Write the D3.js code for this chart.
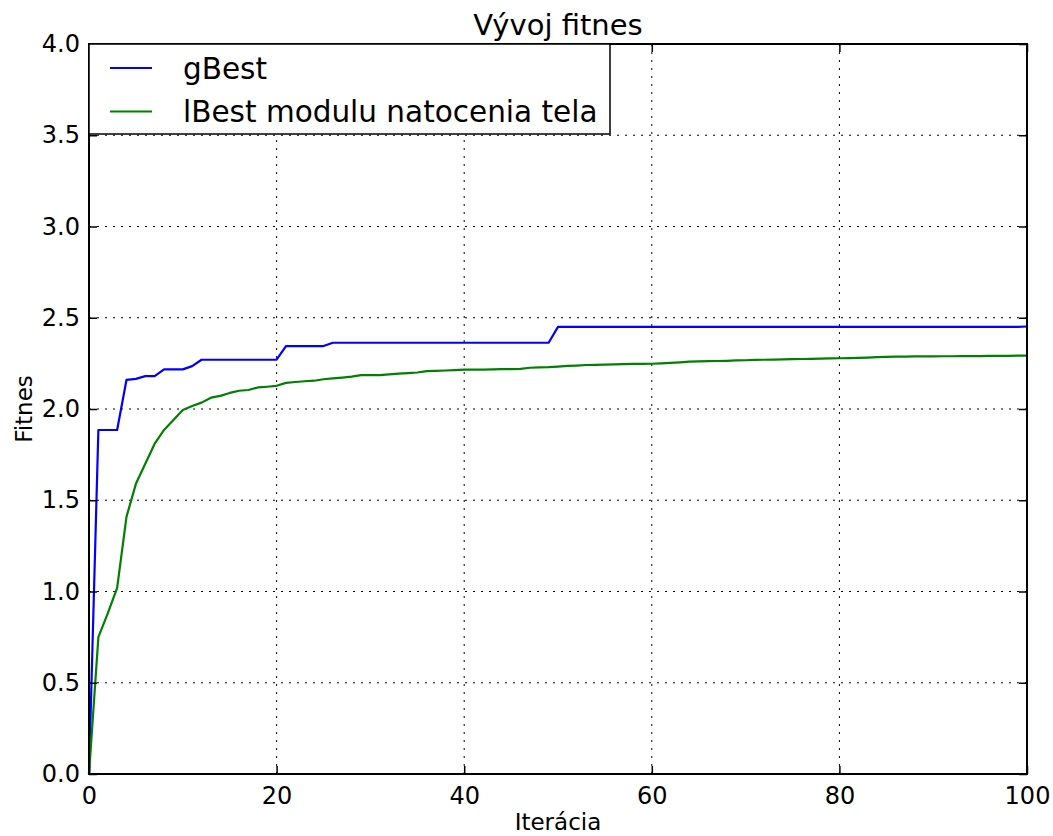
<!DOCTYPE html>
<html>
<head>
<meta charset="utf-8">
<script src="https://cdn.jsdelivr.net/npm/d3@7"></script>
<style>
    html, body { margin: 0; padding: 0; background: #fff; }
    svg { display: block; font-family: 'DejaVu Sans', sans-serif; }
</style>
</head>
<body>
<svg id="chart" width="1053" height="836"></svg>
<script>
// Chart data
const chartTitle = 'Vývoj fitnes';
const xLabel = 'Iterácia';
const yLabel = 'Fitnes';
const seriesNames = ['gBest', 'lBest modulu natocenia tela'];
const seriesColors = ['#0000ff', '#008000'];
const xTicks = [0, 20, 40, 60, 80, 100];
const yTicks = [0.0, 0.5, 1.0, 1.5, 2.0, 2.5, 3.0, 3.5, 4.0];

const gBest = [
    0, 1.885, 1.885, 1.885, 2.16, 2.165, 2.18, 2.18, 2.217, 2.217,
    2.217, 2.235, 2.27, 2.27, 2.27, 2.27, 2.27, 2.27, 2.27, 2.27,
    2.27, 2.345, 2.345, 2.345, 2.345, 2.345, 2.363, 2.363, 2.363, 2.363,
    2.363, 2.363, 2.363, 2.363, 2.363, 2.363, 2.363, 2.363, 2.363, 2.363,
    2.363, 2.363, 2.363, 2.363, 2.363, 2.363, 2.363, 2.363, 2.363, 2.363,
    2.45, 2.45, 2.45, 2.45, 2.45, 2.45, 2.45, 2.45, 2.45, 2.45,
    2.45, 2.45, 2.45, 2.45, 2.45, 2.45, 2.45, 2.45, 2.45, 2.45,
    2.45, 2.45, 2.45, 2.45, 2.45, 2.45, 2.45, 2.45, 2.45, 2.45,
    2.45, 2.45, 2.45, 2.45, 2.45, 2.45, 2.45, 2.45, 2.45, 2.45,
    2.45, 2.45, 2.45, 2.45, 2.45, 2.45, 2.45, 2.45, 2.45, 2.45,
    2.452
];

const lBest = [
    0, 0.75, 0.88, 1.02, 1.41, 1.59, 1.70, 1.81, 1.885, 1.94,
    1.995, 2.016, 2.035, 2.062, 2.072, 2.088, 2.10, 2.104, 2.118, 2.122,
    2.127, 2.143, 2.148, 2.152, 2.155, 2.163, 2.168, 2.172, 2.177, 2.186,
    2.186, 2.186, 2.19, 2.194, 2.197, 2.2, 2.208, 2.209, 2.211, 2.213,
    2.216, 2.216, 2.216, 2.217, 2.218, 2.219, 2.22, 2.226, 2.228, 2.229,
    2.232, 2.236, 2.238, 2.241, 2.242, 2.243, 2.245, 2.246, 2.247, 2.247,
    2.248, 2.25, 2.253, 2.256, 2.26, 2.261, 2.262, 2.263, 2.264, 2.266,
    2.267, 2.269, 2.27, 2.271, 2.272, 2.273, 2.274, 2.275, 2.276, 2.277,
    2.278, 2.279, 2.28, 2.282, 2.284, 2.286, 2.287, 2.287, 2.288, 2.288,
    2.288, 2.289, 2.289, 2.29, 2.29, 2.29, 2.291, 2.291, 2.291, 2.292,
    2.292
];

window.addEventListener('load', () => {
    new FitnessChart();
});

class FitnessChart {

    constructor() {
        this.svg = d3.select('#chart');

        // Plot area in pixels
        this.margin = {
            top: 44,
            left: 89,
            right: 26,
            bottom: 62,
        };
        this.width = 1053 - this.margin.left - this.margin.right;
        this.height = 836 - this.margin.top - this.margin.bottom;

        this.x = d3.scaleLinear().domain([0, 100]).range([0, this.width]);
        this.y = d3.scaleLinear().domain([0, 4]).range([this.height, 0]);

        this.plot = this.svg.append('g')
            .attr('transform', `translate(${this.margin.left}, ${this.margin.top})`);

        this.drawGrid();
        this.drawLines();
        this.drawAxes();
        this.drawLegend();
        this.drawLabels();
    }

    drawGrid() {
        const grid = this.plot.append('g')
            .attr('stroke', '#000')
            .attr('stroke-width', 1)
            .attr('stroke-dasharray', '2,6');

        grid.selectAll('.gx')
            .data(xTicks.slice(1, -1))
            .enter()
            .append('line')
            .attr('x1', d => this.x(d))
            .attr('x2', d => this.x(d))
            .attr('y1', 0)
            .attr('y2', this.height);

        grid.selectAll('.gy')
            .data(yTicks.slice(1, -1))
            .enter()
            .append('line')
            .attr('x1', 0)
            .attr('x2', this.width)
            .attr('y1', d => this.y(d))
            .attr('y2', d => this.y(d));
    }

    drawLines() {
        const line = d3.line()
            .x((d, i) => this.x(i))
            .y(d => this.y(d));

        [gBest, lBest].forEach((values, index) => {
            this.plot.append('path')
                .datum(values)
                .attr('d', line)
                .attr('fill', 'none')
                .attr('stroke', seriesColors[index])
                .attr('stroke-width', 2.2)
                .attr('stroke-linejoin', 'round');
        });
    }

    drawAxes() {
        // Ticks point inwards on all four sides
        const bottom = d3.axisBottom(this.x).tickValues(xTicks).tickSize(-8).tickPadding(13).tickFormat(d3.format('d'));
        const top = d3.axisTop(this.x).tickValues(xTicks).tickSize(-8).tickFormat('');
        const left = d3.axisLeft(this.y).tickValues(yTicks).tickSize(-8).tickPadding(9).tickFormat(d3.format('.1f'));
        const right = d3.axisRight(this.y).tickValues(yTicks).tickSize(-8).tickFormat('');

        this.plot.append('g').attr('transform', `translate(0, ${this.height})`).call(bottom).call(this.axisStyle);
        this.plot.append('g').call(top).call(this.axisStyle);
        this.plot.append('g').call(left).call(this.axisStyle);
        this.plot.append('g').attr('transform', `translate(${this.width}, 0)`).call(right).call(this.axisStyle);

        // Frame
        this.plot.append('rect')
            .attr('width', this.width)
            .attr('height', this.height)
            .attr('fill', 'none')
            .attr('stroke', '#000')
            .attr('stroke-width', 2);
    }

    axisStyle(g) {
        g.select('.domain').remove();
        g.selectAll('.tick line').attr('stroke', '#000').attr('stroke-width', 1.5);
        g.selectAll('.tick text')
            .attr('fill', '#000')
            .style('font-family', "'DejaVu Sans', sans-serif")
            .style('font-size', '24px');
    }

    drawLegend() {
        const legend = this.plot.append('g');

        legend.append('rect')
            .attr('x', 0)
            .attr('y', 0)
            .attr('width', 521)
            .attr('height', 90)
            .attr('fill', '#fff')
            .attr('stroke', '#000')
            .attr('stroke-width', 1.5);

        const rows = legend.selectAll('.row')
            .data(seriesNames)
            .enter()
            .append('g')
            .attr('transform', (d, i) => `translate(0, ${24 + i * 43.5})`);

        rows.append('line')
            .attr('x1', 21)
            .attr('x2', 63)
            .attr('stroke', (d, i) => seriesColors[i])
            .attr('stroke-width', 2);

        rows.append('text')
            .attr('x', 94)
            .attr('dy', '0.36em')
            .style('font-size', '29.5px')
            .text(d => d);
    }

    drawLabels() {
        this.svg.append('text')
            .attr('x', this.margin.left + this.width / 2)
            .attr('y', 35)
            .attr('text-anchor', 'middle')
            .style('font-size', '29px')
            .text(chartTitle);

        this.svg.append('text')
            .attr('x', this.margin.left + this.width / 2)
            .attr('y', 830)
            .attr('text-anchor', 'middle')
            .style('font-size', '23px')
            .text(xLabel);

        this.svg.append('text')
            .attr('transform', `translate(32, ${this.margin.top + this.height / 2}) rotate(-90)`)
            .attr('text-anchor', 'middle')
            .style('font-size', '23px')
            .text(yLabel);
    }

}
</script>
</body>
</html>
